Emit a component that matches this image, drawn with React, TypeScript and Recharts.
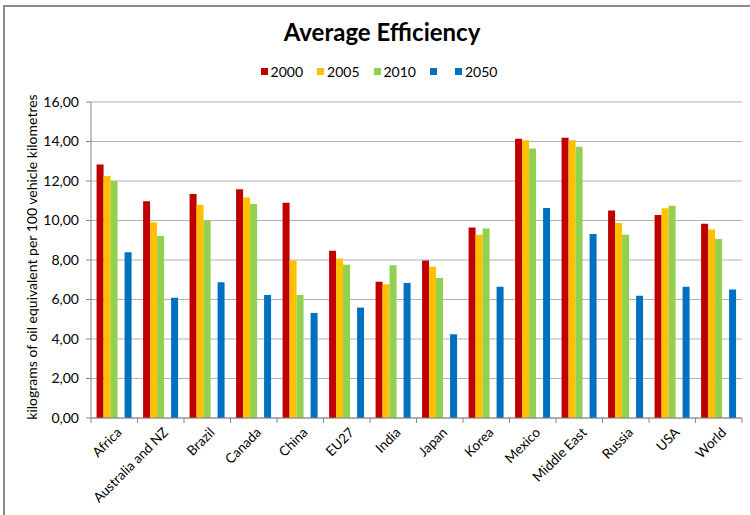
import React from 'react';
import { BarChart, Bar, XAxis, YAxis, CartesianGrid, Legend } from 'recharts';

const REGIONS = ['Africa', 'Australia and NZ', 'Brazil', 'Canada', 'China', 'EU27', 'India', 'Japan', 'Korea', 'Mexico', 'Middle East', 'Russia', 'USA', 'World'];
const Y2000 = [12.83, 10.97, 11.34, 11.58, 10.9, 8.47, 6.9, 7.98, 9.64, 14.14, 14.19, 10.51, 10.28, 9.84];
const Y2005 = [12.25, 9.91, 10.8, 11.16, 7.98, 8.07, 6.77, 7.66, 9.28, 14.06, 14.06, 9.87, 10.62, 9.55];
const Y2010 = [12.0, 9.22, 9.99, 10.84, 6.23, 7.76, 7.73, 7.09, 9.6, 13.64, 13.74, 9.28, 10.75, 9.06];
const Y2050 = [8.39, 6.09, 6.87, 6.23, 5.32, 5.59, 6.84, 4.24, 6.65, 10.63, 9.32, 6.19, 6.65, 6.51];
const Y_TICKS = [0, 2, 4, 6, 8, 10, 12, 14, 16];

const SERIES = [
  { key: 'y2000', name: '2000', color: '#C00000' },
  { key: 'y2005', name: '2005', color: '#FFC000' },
  { key: 'y2010', name: '2010', color: '#92D050' },
  { key: 'blank', name: '', color: '#0070C0' },
  { key: 'y2050', name: '2050', color: '#0070C0' },
];

const data = REGIONS.map((r, i) => ({
  region: r, y2000: Y2000[i], y2005: Y2005[i], y2010: Y2010[i], blank: null, y2050: Y2050[i],
}));

const FONT = 'Lato, "Noto Sans", sans-serif';
const W = 750, H = 515;
const M = { top: 102, right: 8, bottom: 0, left: 0 };
const X_H = 97;
const Y_W = 91;
const BAND = (W - M.left - M.right - Y_W) / REGIONS.length;

const renderLegend = () => (
  <div style={{ display: 'flex', justifyContent: 'center', fontFamily: FONT, fontSize: 14, color: '#000', paddingLeft: 22 }}>
    {SERIES.map(s => (
      <span key={s.key} style={{ display: 'inline-flex', alignItems: 'center', marginRight: s.name ? 14 : 15 }}>
        <span style={{ width: 7, height: 7, background: s.color, display: 'inline-block', marginRight: 3 }} />
        {s.name}
      </span>
    ))}
  </div>
);

const XTick = (props: any) => {
  const { x, y, payload, index } = props;
  return (
    <g>
      <line x1={x + BAND / 2} x2={x + BAND / 2} y1={y - 8} y2={y - 3} stroke="#868686" />
      {index === 0 && <line x1={x - BAND / 2} x2={x - BAND / 2} y1={y - 8} y2={y - 3} stroke="#868686" />}
      <text x={x + 5} y={y + 4} textAnchor="end" transform={`rotate(-45, ${x + 5}, ${y + 4})`}
            fontFamily={FONT} fontSize={13.5} fill="#000" dy="0.35em">{payload.value}</text>
    </g>
  );
};

export default function App() {
  return (
    <div style={{ position: 'absolute', left: 0, top: 0, width: W, height: H, background: '#fff', overflow: 'hidden' }}>
      <div style={{ position: 'absolute', left: 3, top: 5, width: 800, height: 600, borderLeft: '2px solid #8a8a8a', borderTop: '2px solid #8a8a8a' }} />
      <div style={{ position: 'absolute', left: 0, top: 17, width: W, textAlign: 'center', fontFamily: FONT, fontWeight: 700, fontSize: 24, paddingLeft: 14, boxSizing: 'border-box' }}>
        Average Efficiency
      </div>
      <BarChart width={W} height={H} data={data} margin={M} barCategoryGap="12%" barGap={0}>
        <CartesianGrid vertical={false} stroke="#b3b3b3" />
        <XAxis dataKey="region" interval={0} height={X_H} tickLine={false} stroke="#868686" tick={<XTick />} />
        <YAxis domain={[0, 16]} ticks={Y_TICKS} width={Y_W} stroke="#868686" tickSize={5} tickMargin={7}
               tickFormatter={(v: number) => v.toFixed(2).replace('.', ',')}
               tick={{ fontFamily: FONT, fontSize: 14, fill: '#000' }}
               label={{ value: 'kilograms of oil equivalent per 100 vehicle kilometres', angle: -90, position: 'center', dx: -13, dy: -3, fontFamily: FONT, fontSize: 14, fill: '#000' }} />
        <Legend layout="horizontal" verticalAlign="middle" align="center" content={renderLegend}
                wrapperStyle={{ top: 63, left: 0, width: W }} />
        {SERIES.map(s => (
          <Bar key={s.key} dataKey={s.key} name={s.name} fill={s.color} isAnimationActive={false} />
        ))}
      </BarChart>
    </div>
  );
}
